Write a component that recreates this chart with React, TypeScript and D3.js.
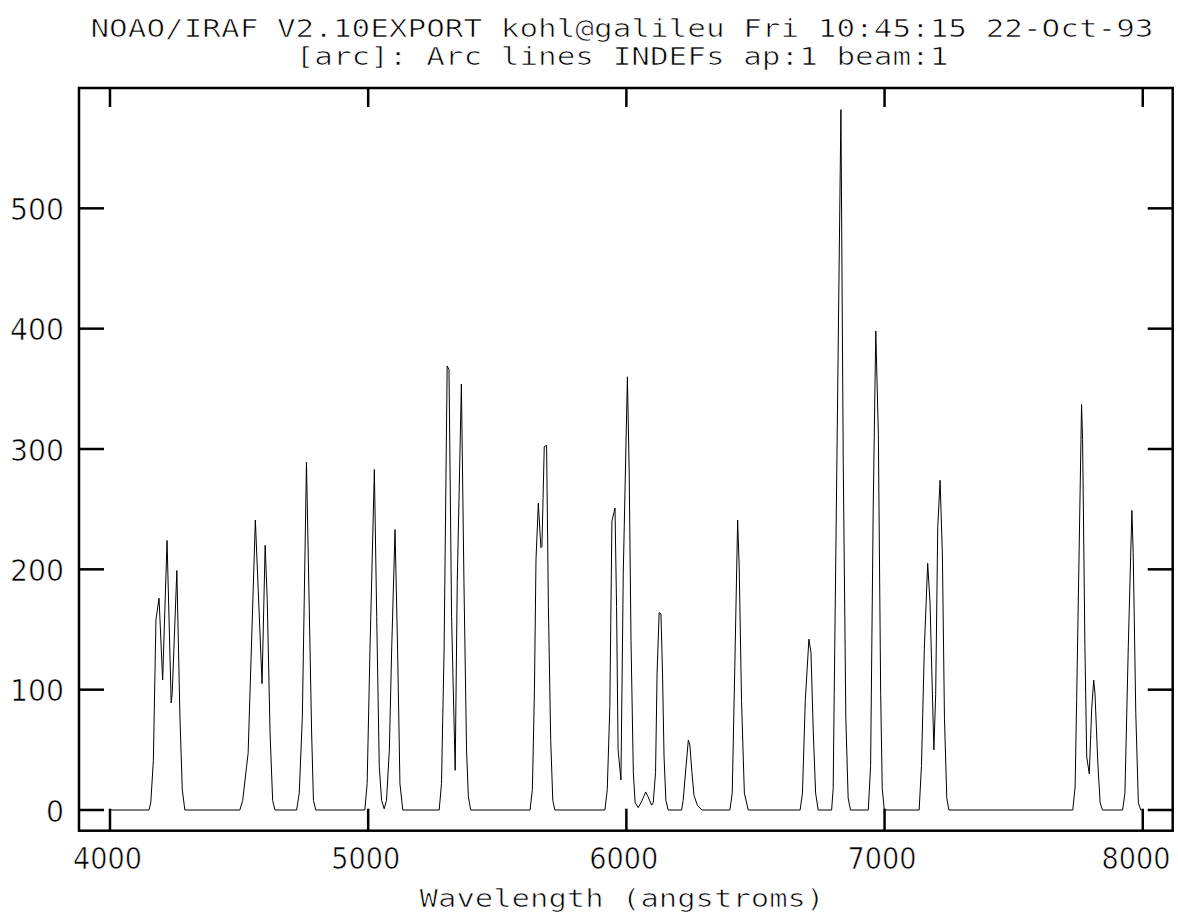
import React from "react";
import * as d3 from "d3";

// arc lamp spectrum (angstroms, counts)
const wavelength = [
  4003,
  4151, 4158, 4168, 4178, 4190, 4204, 4221, 4237, 4241, 4259, 4271, 4280, 4290,
  4503, 4514, 4529, 4535, 4563, 4589, 4601, 4609, 4620, 4630, 4639,
  4723, 4733, 4745, 4761, 4781, 4788, 4797,
  4987, 4996, 5007, 5024, 5033, 5043, 5052, 5062, 5071, 5082, 5091, 5104, 5114, 5123, 5134,
  5275, 5284, 5294, 5306, 5313, 5323, 5337, 5345, 5361, 5371, 5381, 5388, 5397,
  5627, 5636, 5644, 5650, 5659, 5669, 5673, 5682, 5691, 5698, 5707, 5715, 5723,
  5917, 5926, 5936, 5944, 5956, 5962, 5968, 5979, 5988, 6004, 6011, 6018, 6027, 6034,
  6046, 6059, 6075, 6082, 6098, 6104, 6113, 6119, 6127, 6134, 6140, 6146, 6153, 6162,
  6214, 6220, 6231, 6240, 6246, 6254, 6262, 6275, 6292,
  6401, 6410, 6420, 6431, 6437, 6446, 6457, 6472,
  6673, 6682, 6693, 6707, 6715, 6724, 6733, 6743,
  6795, 6801, 6805, 6831, 6840, 6850, 6859, 6868,
  6937, 6946, 6956, 6966, 6976, 6985, 6991, 6999,
  7134, 7143, 7154, 7167, 7176, 7191, 7198, 7206, 7215, 7224, 7232, 7241, 7249,
  7729, 7738, 7744, 7763, 7767, 7776, 7783, 7793, 7802, 7810, 7815, 7826, 7835, 7844,
  7922, 7931, 7944, 7958, 7963, 7973, 7983, 7992,
  7998,
];

const counts = [
  0,
  0, 6, 41, 158, 176, 108, 224, 89, 97, 199, 77, 17, 0,
  0, 8, 36, 47, 241, 105, 220, 175, 64, 8, 0,
  0, 14, 77, 289, 64, 8, 0,
  0, 22, 133, 283, 161, 36, 8, 1, 8, 50, 133, 233, 133, 22, 0,
  0, 22, 133, 369, 366, 161, 33, 189, 354, 189, 50, 11, 0,
  0, 17, 100, 208, 255, 218, 219, 302, 303, 169, 58, 8, 0,
  0, 17, 86, 240, 251, 169, 50, 25, 197, 360, 280, 141, 31, 6,
  2, 7, 15, 12, 4, 6, 31, 114, 164, 163, 114, 44, 8, 0,
  0, 8, 36, 58, 54, 31, 12, 4, 0,
  0, 14, 119, 241, 202, 91, 14, 0,
  0, 14, 91, 142, 131, 64, 14, 0,
  0, 18, 96, 582, 289, 76, 10, 0,
  0, 37, 250, 398, 312, 96, 18, 0,
  0, 37, 134, 205, 173, 50, 96, 235, 274, 212, 76, 10, 0,
  0, 19, 91, 337, 308, 136, 44, 30, 83, 108, 97, 39, 6, 0,
  0, 14, 136, 249, 214, 81, 6, 0,
  0,
];

const xTicks = [4000, 5000, 6000, 7000, 8000];
const yTicks = [0, 100, 200, 300, 400, 500];
const titleLines = [
  "NOAO/IRAF V2.10EXPORT kohl@galileu Fri 10:45:15 22-Oct-93",
  "[arc]: Arc lines INDEFs ap:1 beam:1",
];
const xLabel = "Wavelength (angstroms)";

export default function App() {
  const W = 1178;
  const H = 918;
  const left = 79, right = 1172.7, top = 88, bottom = 830.7;

  const x = d3.scaleLinear().domain([3880, 8116]).range([left, right]);
  const y = d3.scaleLinear().domain([-17.2, 600]).range([bottom, top]);

  const points: [number, number][] = wavelength.map((w, i) => [w, counts[i]]);
  const line = d3
    .line<[number, number]>()
    .x((d) => x(d[0]))
    .y((d) => y(d[1]));

  const mono = "'DejaVu Sans Mono', monospace";
  const sans = "'DejaVu Sans', sans-serif";
  const cell = 18.65; // width of one title character
  const cx = 622;
  // thin the glyphs a little, the original is a single-stroke plotter font
  const thin = { stroke: "#fff", strokeWidth: 0.7 };

  return (
    <svg
      width={W}
      height={H}
      style={{ position: "absolute", left: 0, top: 0, background: "#fff" }}
    >
      <rect x={0} y={0} width={W} height={H} fill="#fff" />

      {titleLines.map((t, i) => (
        <text
          key={i}
          x={cx}
          y={i === 0 ? 37 : 65}
          textAnchor="middle"
          fontFamily={mono}
          fontSize={25}
          textLength={t.length * cell}
          lengthAdjust="spacingAndGlyphs"
          {...thin}
        >
          {t}
        </text>
      ))}

      <path d={line(points) ?? ""} fill="none" stroke="#000" strokeWidth={1} />

      <rect
        x={left}
        y={top}
        width={right - left}
        height={bottom - top}
        fill="none"
        stroke="#000"
        strokeWidth={2.5}
      />

      {xTicks.map((t) => (
        <g key={t}>
          <line x1={x(t)} x2={x(t)} y1={bottom} y2={bottom - 22} stroke="#000" strokeWidth={2.5} />
          <line x1={x(t)} x2={x(t)} y1={top} y2={top + 19} stroke="#000" strokeWidth={2.5} />
          <text
            x={Math.min(x(t) - 2.5, 1136)}
            y={869}
            textAnchor="middle"
            fontFamily={sans}
            fontSize={31}
            textLength={69}
            lengthAdjust="spacingAndGlyphs"
            {...thin}
          >
            {t}
          </text>
        </g>
      ))}

      {yTicks.map((t) => (
        <g key={t}>
          <line x1={left} x2={left + 25} y1={y(t)} y2={y(t)} stroke="#000" strokeWidth={2.5} />
          <line x1={right - 25} x2={right} y1={y(t)} y2={y(t)} stroke="#000" strokeWidth={2.5} />
          <text
            x={64}
            y={y(t) + 11.5}
            textAnchor="end"
            fontFamily={sans}
            fontSize={31}
            textLength={String(t).length * 18}
            lengthAdjust="spacingAndGlyphs"
            {...thin}
          >
            {t}
          </text>
        </g>
      ))}

      <text
        x={cx}
        y={907}
        textAnchor="middle"
        fontFamily={mono}
        fontSize={25}
        textLength={xLabel.length * 18.4}
        lengthAdjust="spacingAndGlyphs"
        {...thin}
      >
        {xLabel}
      </text>
    </svg>
  );
}
